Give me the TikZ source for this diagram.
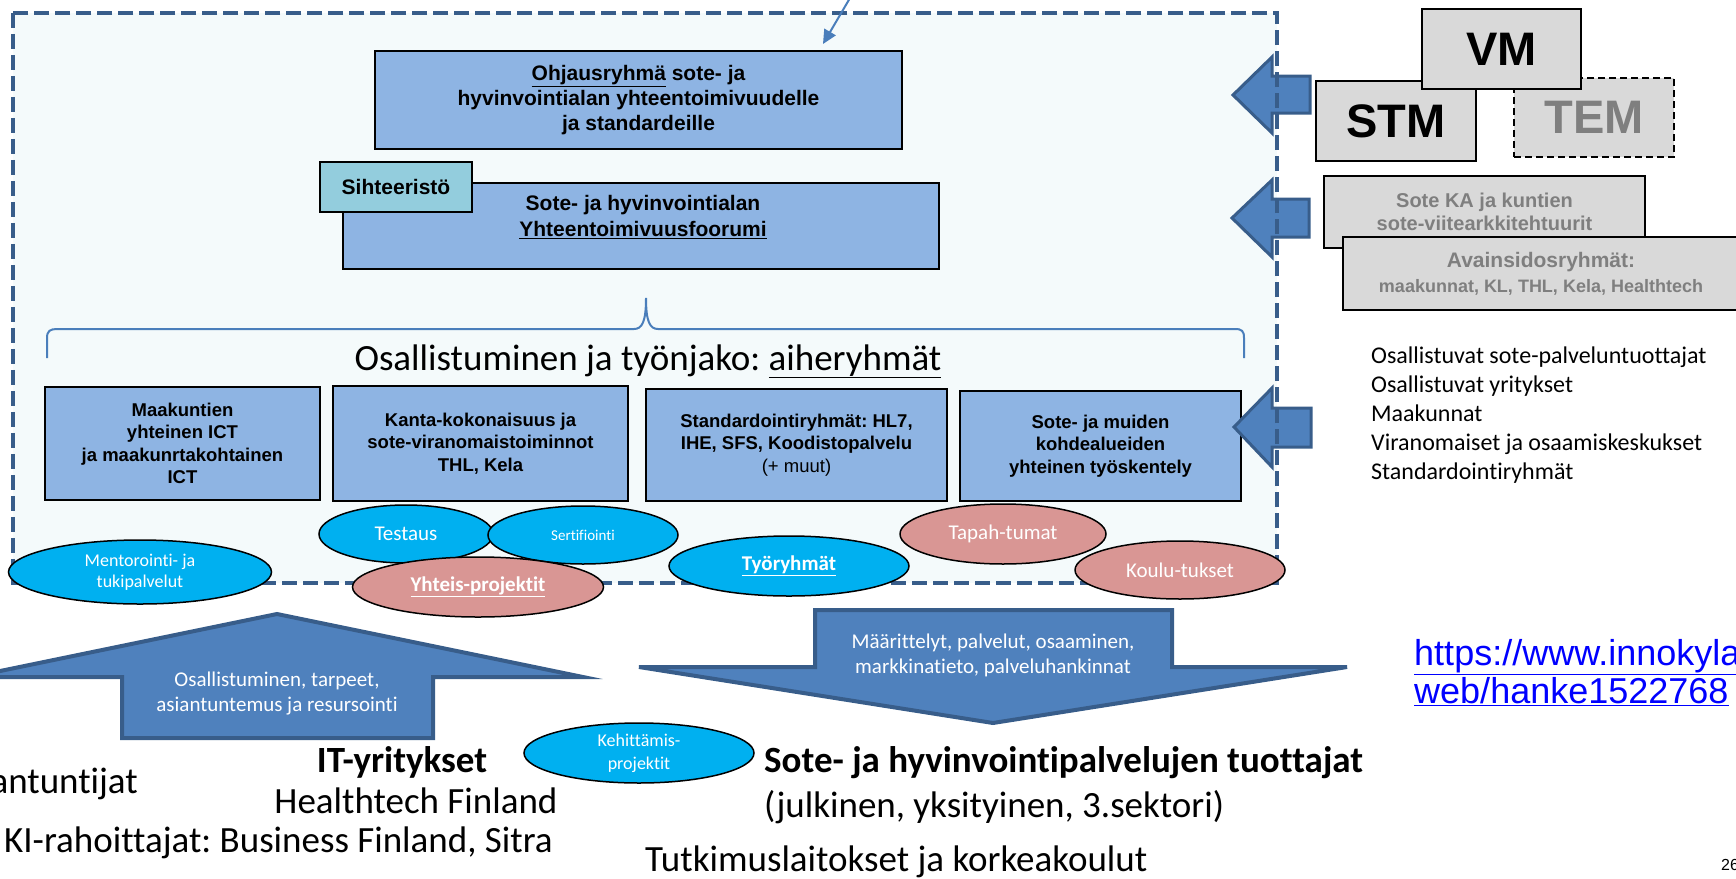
\documentclass[tikz,border=0pt]{standalone}
\usepackage{fontspec}
\setmainfont{Liberation Sans}
\newfontfamily\calibri[Ligatures={NoCommon}]{Carlito}
\frenchspacing
\usetikzlibrary{shapes.geometric,arrows.meta}

\definecolor{frameblue}{HTML}{385D8A}
\definecolor{framefill}{HTML}{F4FAFB}
\definecolor{boxblue}{HTML}{8EB4E3}
\definecolor{tealbox}{HTML}{93CDDD}
\definecolor{arrowblue}{HTML}{4F81BD}
\definecolor{bracecol}{HTML}{4A7EBB}
\definecolor{cyanoval}{HTML}{00B0F0}
\definecolor{pinkoval}{HTML}{D99694}
\definecolor{greybox}{HTML}{D9D9D9}
\definecolor{greytext}{HTML}{7F7F7F}
\definecolor{linkblue}{HTML}{0000FF}

\tikzset{
  topicbox/.style={draw=black, line width=2pt, fill=boxblue, inner sep=0pt, align=center, font=\bfseries\fontsize{18.5}{22.5}\selectfont},
  govbox/.style={draw=black, line width=2pt, fill=greybox, inner sep=0pt, font=\bfseries\fontsize{47}{50}\selectfont},
  infobox/.style={draw=black, line width=2pt, fill=greybox, inner sep=0pt, align=center, text=greytext, font=\bfseries\fontsize{20}{23}\selectfont},
  blueoval/.style={ellipse, draw=black, line width=1.5pt, fill=cyanoval, inner sep=0pt, align=center, text=white, font=\calibri\fontsize{21}{25}\selectfont},
  rosyoval/.style={ellipse, draw=black, line width=1.5pt, fill=pinkoval, inner sep=0pt, align=center, text=white, font=\calibri\fontsize{21}{25}\selectfont},
  blockarrow/.style={fill=arrowblue, draw=frameblue, line width=3pt, line join=miter},
  arrowtext/.style={inner sep=0pt, align=center, text=white, font=\calibri\fontsize{21}{25}\selectfont},
  bigtext/.style={inner sep=0pt, font=\calibri\fontsize{37}{44}\selectfont},
}

\begin{document}
\begin{tikzpicture}[x=1pt, y=-1pt]
\useasboundingbox (0,0) rectangle (1736,878);

% the working area
\node[fill=framefill, minimum width=1264pt, minimum height=570pt, inner sep=0pt] (frame) at (645,298) {};

\draw[bracecol, line width=2pt] (47,358) -- (47,338) .. controls (47,331) and (50,329) .. (57,329) -- (634,329) .. controls (642,329) and (646,322) .. (646,298) .. controls (646,322) and (650,329) .. (658,329) -- (1235,329) .. controls (1242,329) and (1244,331) .. (1244,338) -- (1244,358);
\node[bigtext, anchor=base] (title) at (648,370) {Osallistuminen ja työnjako: \underline{aiheryhmät}};

\node[topicbox, font=\bfseries\fontsize{21}{25}\selectfont, minimum width=527pt, minimum height=98pt] (ohj) at (638.5,100) {\underline{Ohjausryhmä} sote- ja\\hyvinvointialan yhteentoimivuudelle\\ja standardeille};
\node[topicbox, minimum width=596pt, minimum height=86pt] (forum) at (641,226) {};
\node[font=\bfseries\fontsize{21}{26}\selectfont, align=center, inner sep=0pt] (forumtxt) at (643,217) {Sote- ja hyvinvointialan\\\underline{Yhteentoimivuusfoorumi}};
\node[topicbox, fill=tealbox, font=\bfseries\fontsize{21}{25}\selectfont, minimum width=152pt, minimum height=50pt] (siht) at (396,187) {Sihteeristö};

\node[topicbox, minimum width=275pt, minimum height=113pt] (maak) at (182.5,443.5) {Maakuntien\\yhteinen ICT\\ja maakunrtakohtainen\\ICT};
\node[topicbox, minimum width=295pt, minimum height=115pt] (kanta) at (480.5,443.5) {Kanta-kokonaisuus ja\\sote-viranomaistoiminnot\\THL, Kela};
\node[topicbox, minimum width=301pt, minimum height=112pt] (stand) at (796.5,445) {Standardointiryhmät: HL7,\\IHE, SFS, Koodistopalvelu\\\mdseries(+ muut)};
\node[topicbox, minimum width=281pt, minimum height=110pt] (muut) at (1100.5,446) {Sote- ja muiden\\kohdealueiden\\yhteinen työskentely};

% arrows into the frame
\draw[blockarrow] (1233,95) -- (1272,57) -- (1272,76) -- (1310,76) -- (1310,113) -- (1272,113) -- (1272,133) -- cycle;
\draw[blockarrow] (1232,218) -- (1272,180) -- (1272,199) -- (1309,199) -- (1309,237) -- (1272,237) -- (1272,257) -- cycle;
\draw[blockarrow] (1234,427) -- (1272,388) -- (1272,408) -- (1311,408) -- (1311,447) -- (1272,447) -- (1272,467) -- cycle;

\draw[frameblue, line width=4pt, dash pattern=on 15pt off 6pt] (frame.north west) rectangle (frame.south east);

\coordinate (topin) at (850,-2);
\draw[bracecol, line width=2pt, -{Triangle[length=14pt,width=13pt]}] (topin) -- ([xshift=-80pt,yshift=6pt]ohj.north east);

\node[blueoval, font=\calibri\fontsize{18}{21}\selectfont, minimum width=263pt, minimum height=64pt] (mentor) at (140,572) {Mentorointi- ja\\tukipalvelut};
\node[blueoval, minimum width=174pt, minimum height=58pt] (test) at (406,534) {Testaus};
\node[blueoval, font=\calibri\fontsize{15}{18}\selectfont, minimum width=190pt, minimum height=58pt] (sert) at (583,535) {Sertifiointi};
\node[rosyoval, font=\calibri\bfseries\fontsize{21}{25}\selectfont, minimum width=251pt, minimum height=60pt] (yhteis) at (478,587) {\underline{Yhteis-projektit}};
\node[blueoval, font=\calibri\bfseries\fontsize{21}{25}\selectfont, minimum width=240pt, minimum height=60pt] (tyor) at (789,566) {\underline{Työryhmät}};
\node[rosyoval, minimum width=206pt, minimum height=60pt] (tapah) at (1003,534) {Tapah-tumat};
\node[rosyoval, minimum width=210pt, minimum height=58pt] (koulu) at (1180,570) {Koulu-tukset};
\node[blueoval, font=\calibri\fontsize{18}{23}\selectfont, minimum width=230pt, minimum height=60pt] (kehit) at (639,753) {Kehittämis-\\projektit};

% ministries and reference groups
\node[govbox, dash pattern=on 7pt off 4pt, line width=1.5pt, text=greytext, minimum width=160pt, minimum height=79pt] (tem) at (1594,117.5) {TEM};
\node[govbox, minimum width=160pt, minimum height=80pt] (stm) at (1396,121) {STM};
\node[govbox, minimum width=159pt, minimum height=80pt] (vm) at (1501.5,49) {VM};
\node[infobox, minimum width=321pt, minimum height=72pt] (soteka) at (1484.5,212) {Sote KA ja kuntien\\sote-viitearkkitehtuurit};
\node[infobox, font=\bfseries\fontsize{21}{25}\selectfont, minimum width=396pt, minimum height=73pt] (avain) at (1541,273.5) {Avainsidosryhmät:\\{\fontsize{18}{22}\selectfont maakunnat, KL, THL, Kela, Healthtech}};

\node[anchor=west, align=left, inner sep=0pt, font=\calibri\fontsize{24}{29}\selectfont] (osall) at (1371,415) {Osallistuvat sote-palveluntuottajat\\Osallistuvat yritykset\\Maakunnat\\Viranomaiset ja osaamiskeskukset\\Standardointiryhmät};

\node[anchor=base west, inner sep=0pt, text=linkblue, font=\fontsize{36}{38}\selectfont] (url1) at (1414,665) {\underline{https://www.innokyla}};
\node[anchor=base west, inner sep=0pt, text=linkblue, font=\fontsize{36}{38}\selectfont] (url2) at (1414,703) {\underline{web/hanke1522768}};

% flows below
\draw[blockarrow, line width=4pt] (277,614) -- (583,677) -- (433,677) -- (433,738) -- (122,738) -- (122,677) -- (-29,677) -- cycle;
\node[arrowtext] (uptxt) at (277,693) {Osallistuminen, tarpeet,\\asiantuntemus ja resursointi};
\draw[blockarrow, line width=4pt] (815,610) -- (1172,610) -- (1172,667) -- (1347,667) -- (993,723) -- (639,667) -- (815,667) -- cycle;
\node[arrowtext] (downtxt) at (993,655) {Määrittelyt, palvelut, osaaminen,\\markkinatieto, palveluhankinnat};

\node[bigtext, anchor=base east] (asiant) at (138,793) {antuntijat};
\node[bigtext, anchor=base, font=\calibri\bfseries\fontsize{37}{44}\selectfont] (ityr) at (402,772) {IT-yritykset};
\node[bigtext, anchor=base] (healthtech) at (416,813) {Healthtech Finland};
\node[bigtext, anchor=base east] (rahoit) at (553,852) {KI-rahoittajat: Business Finland, Sitra};
\node[bigtext, anchor=base west, font=\calibri\bfseries\fontsize{37}{44}\selectfont] (tuott) at (764,772) {Sote- ja hyvinvointipalvelujen tuottajat};
\node[bigtext, anchor=base west] (sektori) at (764,817) {(julkinen, yksityinen, 3.sektori)};
\node[bigtext, anchor=base west] (tutk) at (645,871) {Tutkimuslaitokset ja korkeakoulut};

\node[anchor=base west, inner sep=0pt, font=\fontsize{16}{18}\selectfont] (pagenum) at (1721,870) {26};
\end{tikzpicture}
\end{document}
